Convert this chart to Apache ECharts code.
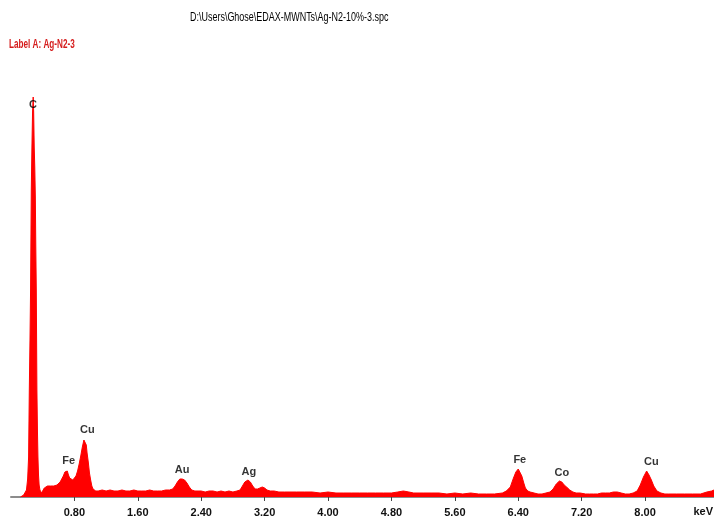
<!DOCTYPE html>
<html>
<head>
<meta charset="utf-8">
<script src="https://cdn.jsdelivr.net/npm/echarts@6/dist/echarts.min.js"></script>
<style>html,body{margin:0;padding:0;background:#fff;}#c{width:714px;height:522px;}</style>
</head>
<body>
<div id="c"></div>
<script>
// Spectrum: energy (keV) and counts (arbitrary)
var energy = [
0.12,0.14,0.16,0.18,0.195,0.21,0.222,0.231,0.240,0.247,0.256,0.264,0.272,0.280,0.286,0.293,0.300,0.307,0.313,0.319,0.327,0.334,0.340,0.347,0.355,0.365,0.375,0.385,
0.40,0.42,0.44,0.46,0.48,0.50,0.52,0.54,0.56,0.58,0.60,0.62,0.64,0.66,0.68,0.70,0.71,0.725,0.74,0.76,0.78,0.80,0.82,0.84,0.86,0.88,0.90,0.92,0.935,0.95,0.96,0.975,0.99,1.005,1.02,1.035,1.05,1.07,1.10,
1.15,1.20,1.25,1.30,1.35,1.40,1.45,1.50,1.55,1.60,1.65,1.70,1.75,1.80,1.85,1.90,1.95,2.00,
2.04,2.07,2.10,2.13,2.16,2.19,2.22,2.25,2.28,2.32,2.36,2.40,2.45,2.50,2.55,2.60,2.65,2.70,2.75,2.80,2.85,
2.89,2.92,2.95,2.99,3.02,3.05,3.08,3.11,3.14,3.17,3.20,3.23,3.27,3.32,3.38,3.45,3.52,3.60,3.70,3.80,3.90,4.00,4.10,4.20,4.30,4.40,4.50,4.60,4.70,4.80,4.88,4.95,5.02,5.08,5.20,5.30,5.40,5.50,5.60,5.70,5.80,5.90,6.00,6.10,6.20,
6.25,6.30,6.34,6.37,6.40,6.42,6.445,6.47,6.49,6.52,6.55,6.60,6.65,6.70,6.75,
6.80,6.84,6.88,6.92,6.95,6.98,7.01,7.05,7.09,7.13,7.18,7.25,7.30,7.35,7.40,7.45,7.50,7.55,7.60,7.65,7.70,7.75,7.80,7.85,
7.90,7.94,7.98,8.02,8.05,8.08,8.11,8.15,8.20,8.25,8.30,8.40,8.50,8.60,8.70,8.78,8.84,8.87
];
var counts = [
0,1,2,4,7,18,40,107,160,207,307,350,385,400,385,350,330,300,250,207,107,65,40,22,12,7,5,4,
6,9,10,11,10,11,12,11,12,12,14,15,17,21,25,27,26,22,19,18,17,19,21,26,33,41,50,57,59,52,44,35,24,17,11,8,7,6,6,
7,6,7,6,6,7,6,6,7,6,6,6,7,6,6,6,7,7,
8,11,15,18,18,17,14,10,7,6,6,6,5,6,6,5,6,5,6,5,6,
7,11,15,17,15,11,8,8,9,10,9,7,6,6,5,5,5,5,5,5,4,5,4,4,4,4,4,4,4,4,5,6,5,4,4,4,4,3,4,3,4,3,3,3,4,
6,10,19,25,28,26,21,14,9,6,5,4,3,3,4,
5,8,13,16,15,12,10,7,5,4,4,3,3,3,3,4,4,4,5,5,4,3,3,4,
6,12,20,26,22,17,11,6,4,3,3,3,3,3,3,5,6,7
];
// Peak labels
var peakNames = ['C','Fe','Cu','Au','Ag','Fe','Co','Cu'];
var peakEnergy = [0.276,0.727,0.963,2.16,3.00,6.42,6.95,8.08];
var peakLabelLevel = [392,36,67,27,25,37,24,35];
// Axis ticks
var tickValues = [0.8,1.6,2.4,3.2,4.0,4.8,5.6,6.4,7.2,8.0];
var titleText = 'D:\\Users\\Ghose\\EDAX-MWNTs\\Ag-N2-10%-3.spc';
var labelText = 'Label A: Ag-N2-3';

var spec = energy.map(function(e,i){return [e, counts[i]];});
var peaks = peakNames.map(function(n,i){return {name:n, value:[peakEnergy[i], peakLabelLevel[i]]};});

var chart = echarts.init(document.getElementById('c'), null, {renderer:'canvas'});
chart.setOption({
  animation:false,
  backgroundColor:'#ffffff',
  grid:{left:11, right:0, top:77, bottom:25},
  xAxis:{
    type:'value', min:0, max:8.87, interval:0.8, offset:2,
    splitLine:{show:false},
    axisLine:{show:true, lineStyle:{color:'#8c8c8c', width:2}},
    axisTick:{show:true, customValues:tickValues, length:4, lineStyle:{color:'#444', width:1}},
    axisLabel:{show:true, customValues:tickValues, margin:8, color:'#111', fontSize:11, fontWeight:'bold',
      fontFamily:'Liberation Sans, Arial, sans-serif',
      formatter:function(v){return v.toFixed(2);}}
  },
  yAxis:{type:'value', min:0, max:420, show:false, splitLine:{show:false}},
  graphic:[
    {type:'text', x:190, y:17, scaleX:0.69, style:{text:titleText, fill:'#000', verticalAlign:'middle', font:'13px "Liberation Sans", Arial, sans-serif'}},
    {type:'text', x:9, y:45, scaleX:0.68, style:{text:labelText, fill:'#d51c1c', verticalAlign:'middle', font:'bold 12px "Liberation Sans", Arial, sans-serif'}},
    {type:'text', right:1, top:506, style:{text:'keV', fill:'#111', font:'bold 11px "Liberation Sans", Arial, sans-serif'}}
  ],
  series:[
    {type:'line', data:spec, symbol:'none', smooth:false,
     lineStyle:{color:'#ff0000', width:1},
     areaStyle:{color:'#ff0000', opacity:1, origin:'start'}, z:2},
    {type:'scatter', data:peaks, symbolSize:0, z:5,
     label:{show:true, position:'inside', formatter:'{b}', color:'#000', fontSize:11, fontWeight:'bold',
       fontFamily:'Liberation Sans, Arial, sans-serif'}}
  ]
});
</script>
</body>
</html>
